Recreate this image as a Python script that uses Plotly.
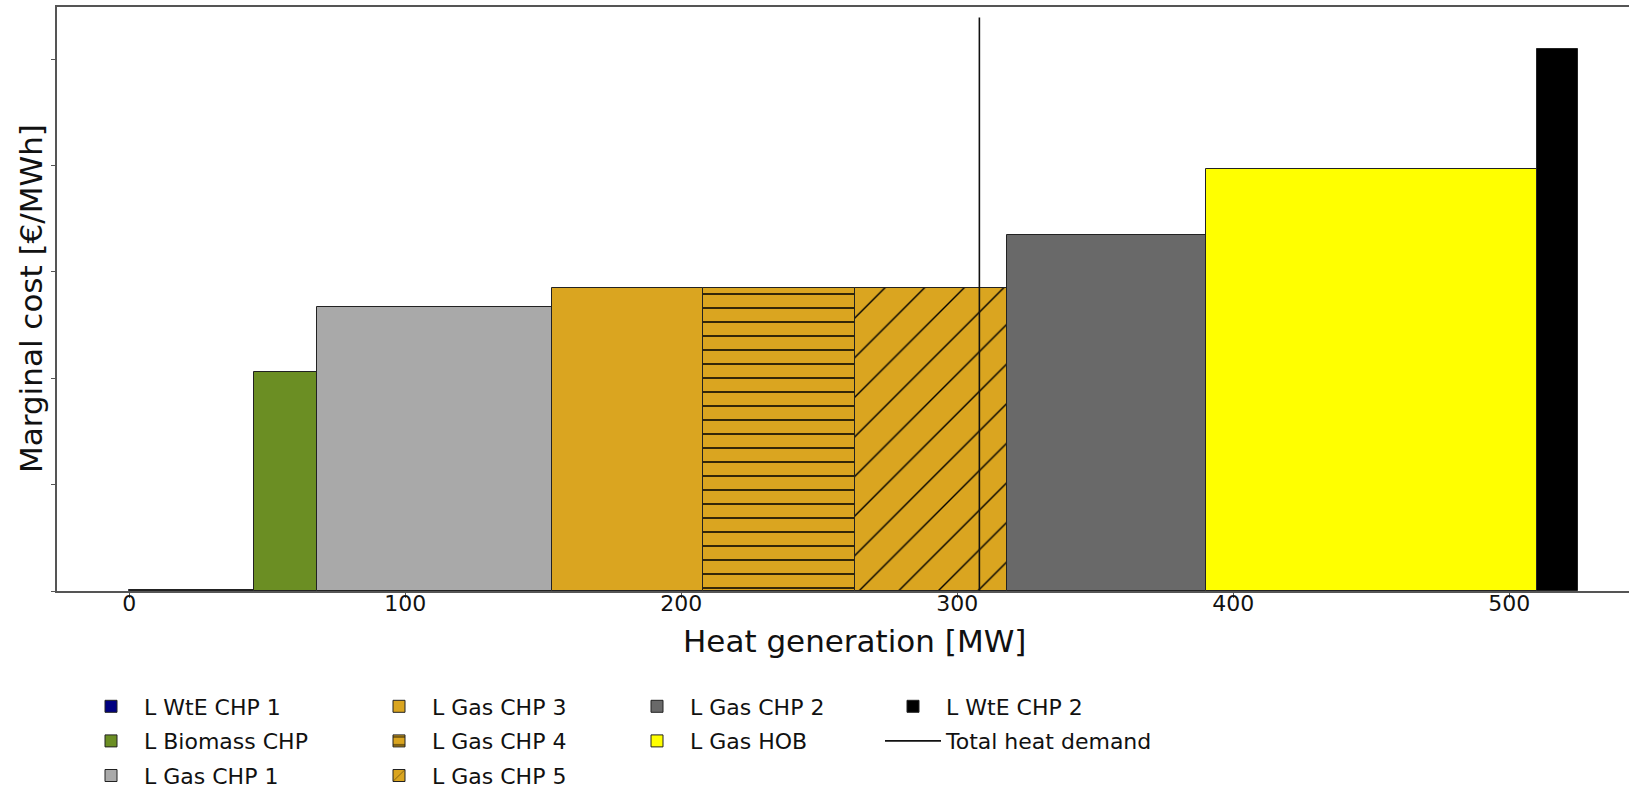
import numpy as np
import plotly.graph_objects as go

# ---------------- data ----------------
units = ["L WtE CHP 1", "L Biomass CHP", "L Gas CHP 1", "L Gas CHP 3",
         "L Gas CHP 4", "L Gas CHP 5", "L Gas CHP 2", "L Gas HOB", "L WtE CHP 2"]
capacity_mw = [45, 23, 85, 55, 55, 55, 72, 120, 15]
marginal_cost = [0.1, 41.2, 53.3, 57.0, 57.0, 57.0, 66.9, 79.4, 101.9]
total_heat_demand_mw = 308
demand_line_top = 107.8
x_ticks = [0, 100, 200, 300, 400, 500]
y_ticks = [0, 20, 40, 60, 80, 100]

# ---------------- style ----------------
colors = ["#000080", "#6B8E23", "#A9A9A9", "#DAA520", "#DAA520",
          "#DAA520", "#696969", "#FFFF00", "#000000"]
hatches = ["", "", "", "", "-", "/", "", "", ""]
legend_ids = ["legend", "legend", "legend", "legend2", "legend2", "legend2",
              "legend3", "legend3", "legend4"]
FONT = "DejaVu Sans"
W, H = 1629, 790
L, R, T, B = 57, 0, 7, 199

lefts = np.concatenate([[0], np.cumsum(capacity_mw)[:-1]]).astype(float)

fig = go.Figure()
for i, name in enumerate(units):
    w = float(capacity_mw[i])
    if hatches[i] == "-":
        psize, psol = 14, 0.11
    elif hatches[i] == "/":
        psize, psol = 28, 0.05
    else:
        psize, psol = 8, 0.3
    pattern = dict(shape=hatches[i], fgcolor="black", bgcolor=colors[i],
                   size=psize, solidity=psol, fillmode="replace")
    fig.add_trace(go.Bar(
        x=[lefts[i] + w / 2], y=[marginal_cost[i]], width=[w],
        name=name,
        marker=dict(color=colors[i], line=dict(color="#222222", width=1),
                    pattern=pattern),
        legend=legend_ids[i], legendgroup=name,
    ))

fig.add_trace(go.Scatter(
    x=[total_heat_demand_mw, total_heat_demand_mw], y=[0, demand_line_top],
    mode="lines", line=dict(color="#111111", width=1.6),
    name="Total heat demand", legend="legend4", legendgroup="demand",
))

plot_w = W - L - R
plot_h = H - T - B
px_per_mw = 2.76
x0 = (L - 129.3) / px_per_mw
x1 = x0 + plot_w / px_per_mw
px_per_cost = 106.4 / 20
y1 = plot_h / px_per_cost

axis_col = "#555555"
fig.update_xaxes(
    range=[x0, x1], tickvals=x_ticks, ticktext=[str(v) for v in x_ticks],
    showline=True, linecolor=axis_col, linewidth=1.5, mirror=True,
    ticks="outside", ticklen=5, tickcolor=axis_col, tickwidth=1,
    ticklabelstandoff=-13,
    tickfont=dict(family=FONT, size=22, color="#111111"),
    showgrid=False, zeroline=False,
)
fig.update_yaxes(
    range=[0, y1], tickvals=y_ticks, showticklabels=False,
    showline=True, linecolor=axis_col, linewidth=1.5, mirror=False,
    ticks="outside", ticklen=4, tickcolor=axis_col, tickwidth=1,
    showgrid=False, zeroline=False,
)

leg_common = dict(xref="container", yref="container", xanchor="left", yanchor="top",
                  orientation="v", bgcolor="rgba(0,0,0,0)",
                  font=dict(family=FONT, size=22, color="#111111"),
                  itemwidth=56, tracegroupgap=3, traceorder="grouped")
legend_text_x = [146, 434, 692, 948]
leg_top = 1 - 685.5 / H

fig.update_layout(
    width=W, height=H,
    margin=dict(l=L, r=R, t=T, b=B, autoexpand=False),
    paper_bgcolor="white", plot_bgcolor="white",
    barmode="overlay", bargap=0,
    font=dict(family=FONT, color="#111111"),
    legend=dict(x=(legend_text_x[0] - 68) / W, y=leg_top, **leg_common),
    legend2=dict(x=(legend_text_x[1] - 68) / W, y=leg_top, **leg_common),
    legend3=dict(x=(legend_text_x[2] - 68) / W, y=leg_top, **leg_common),
    legend4=dict(x=(legend_text_x[3] - 68) / W, y=leg_top, **leg_common),
    annotations=[
        dict(text="Heat generation [MW]", xref="paper", yref="paper",
             x=(854 - L) / plot_w, y=(591 - 641) / plot_h,
             xanchor="center", yanchor="middle", showarrow=False,
             font=dict(family=FONT, size=31, color="#111111")),
        dict(text="Marginal cost [€/MWh]", xref="paper", yref="paper",
             x=(31 - L) / plot_w, y=0.5, textangle=-90,
             xanchor="center", yanchor="middle", showarrow=False,
             font=dict(family=FONT, size=31, color="#111111")),
    ],
)

fig.write_html("out.html")
